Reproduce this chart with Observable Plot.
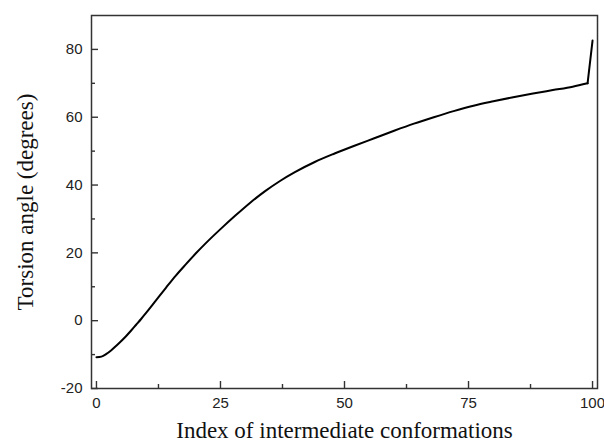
<!DOCTYPE html>
<html>
<head>
<meta charset="utf-8">
<script src="https://cdn.jsdelivr.net/npm/d3@7"></script>
<script src="https://cdn.jsdelivr.net/npm/@observablehq/plot@0.6"></script>
<style>
  html, body { margin: 0; padding: 0; background: #fff; }
  #chart svg { display: block; }
</style>
</head>
<body>
<div id="chart"></div>
<script>
// Torsion angle along the path of intermediate conformations
const conformationIndex = [0, 1, 2, 3, 4, 5, 6, 7, 8, 9, 10, 12, 14, 16, 18, 20, 22, 25, 28, 31, 34, 37, 40, 44, 48, 52, 56, 60, 64, 68, 72, 76, 80, 84, 88, 92, 96, 99, 100];
const torsionAngle = [-10.8, -10.6, -9.8, -8.7, -7.4, -6.0, -4.5, -2.9, -1.2, 0.5, 2.3, 6.0, 9.7, 13.3, 16.6, 19.8, 22.8, 27.0, 31.0, 34.8, 38.2, 41.2, 43.8, 46.8, 49.3, 51.6, 53.8, 56.0, 58.1, 60.0, 61.8, 63.4, 64.7, 65.9, 67.0, 68.0, 69.0, 70.0, 82.6];

const xMajorTicks = [0, 25, 50, 75, 100];
const xMinorTicks = [12.5, 37.5, 62.5, 87.5];
const yMajorTicks = [-20, 0, 20, 40, 60, 80];
const yMinorTicks = [-10, 10, 30, 50, 70];

const xTitle = "Index of intermediate conformations";
const yTitle = "Torsion angle (degrees)";

const points = conformationIndex.map((x, i) => ({x, y: torsionAngle[i]}));
// the relaxed path is smooth; the final step to the end state is a straight jump
const smoothPart = points.filter(d => d.x <= 99);
const finalStep = points.filter(d => d.x >= 99);

const W = 604, H = 444;
const M = {left: 91, right: 7, top: 15, bottom: 56};
const innerW = W - M.left - M.right;
const innerH = H - M.top - M.bottom;
const majorLen = 7, minorLen = 4;

const tickFont = "'Liberation Sans', Arial, sans-serif";
const titleFont = "'Liberation Serif', 'Times New Roman', serif";
const plain = d => String(d);

const chart = Plot.plot({
  width: W,
  height: H,
  marginLeft: M.left,
  marginRight: M.right,
  marginTop: M.top,
  marginBottom: M.bottom,
  style: {fontFamily: tickFont, fontSize: "15px", color: "#222", background: "#fff"},
  x: {domain: [-1, 101]},
  y: {domain: [-20, 90]},
  marks: [
    // tick labels
    Plot.axisX(xMajorTicks, {anchor: "bottom", tickSize: 0, tickPadding: 9, tickFormat: plain, label: null, fontSize: 15, fill: "#222"}),
    Plot.axisY(yMajorTicks, {anchor: "left", tickSize: 0, tickPadding: 9, tickFormat: plain, label: null, fontSize: 15, fill: "#222"}),
    // inward tick marks
    Plot.tickX(xMajorTicks, {x: d => d, insetTop: innerH - majorLen, stroke: "#333", strokeWidth: 1.4}),
    Plot.tickX(xMinorTicks, {x: d => d, insetTop: innerH - minorLen, stroke: "#333", strokeWidth: 1.4}),
    Plot.tickY(yMajorTicks, {y: d => d, insetRight: innerW - majorLen, stroke: "#333", strokeWidth: 1.4}),
    Plot.tickY(yMinorTicks, {y: d => d, insetRight: innerW - minorLen, stroke: "#333", strokeWidth: 1.4}),
    Plot.frame({stroke: "#333", strokeWidth: 1.5}),
    Plot.line(smoothPart, {x: "x", y: "y", curve: "monotone-x", stroke: "#000", strokeWidth: 2}),
    Plot.line(finalStep, {x: "x", y: "y", curve: "linear", stroke: "#000", strokeWidth: 2}),
    Plot.text([xTitle], {frameAnchor: "bottom", text: d => d, dy: 42, textAnchor: "middle", lineAnchor: "middle", fontFamily: titleFont, fontSize: 23, fill: "#111"}),
    Plot.text([yTitle], {frameAnchor: "left", text: d => d, dx: -66, rotate: -90, textAnchor: "middle", lineAnchor: "middle", fontFamily: titleFont, fontSize: 23, fill: "#111"})
  ]
});

document.getElementById("chart").appendChild(chart);
</script>
</body>
</html>
